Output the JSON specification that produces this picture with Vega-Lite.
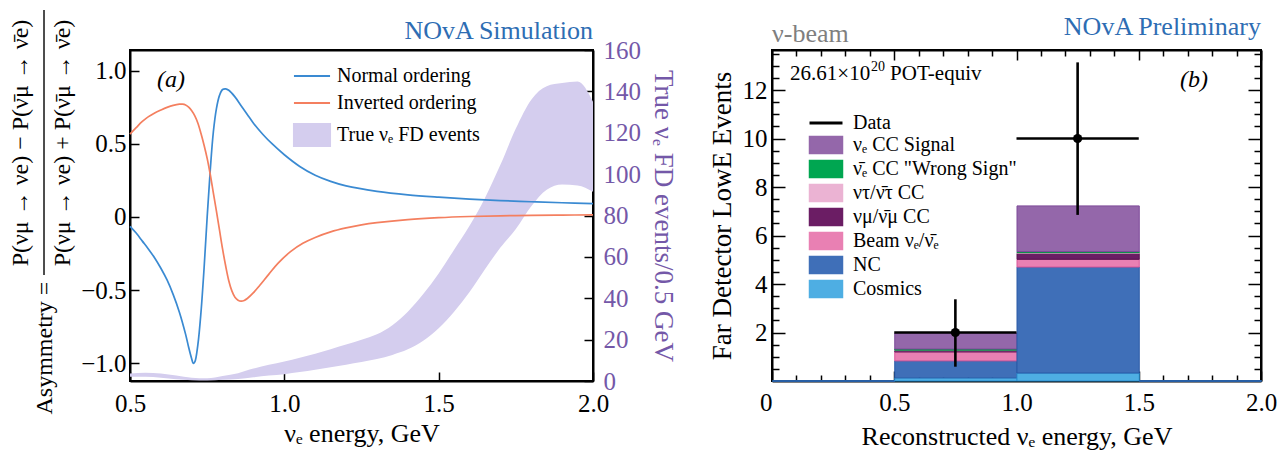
{
 "$schema": "https://vega.github.io/schema/vega-lite/v6.json",
 "background": "white",
 "padding": {"left": 8, "top": 8, "right": 0, "bottom": 0},
 "config": {
   "font": "Liberation Serif",
   "view": {"stroke": "black", "strokeWidth": 2},
   "text": {"font": "Liberation Serif"},
   "axis": {"domain": true, "domainColor": "black", "domainWidth": 2, "grid": false, "tickColor": "black", "tickWidth": 1.5, "labelColor": "black", "titleColor": "black", "labelFont": "Liberation Serif", "titleFont": "Liberation Serif", "labelFontSize": 25, "titleFontSize": 26, "titleFontWeight": "normal", "labelFlush": false, "labelOverlap": false, "labelBound": false},
   "legend": {"labelFont": "Liberation Serif", "labelColor": "black", "labelFontSize": 20, "labelLimit": 400}
 },
 "bounds": "flush",
 "spacing": 179,
 "resolve": {"scale": {"color": "independent", "stroke": "independent"}, "legend": {"color": "independent", "stroke": "independent"}},
 "datasets": {
  "curves": [
   {"E":0.5,"A":-0.064,"ordering":"Normal ordering"},{"E":0.52,"A":-0.11,"ordering":"Normal ordering"},{"E":0.54,"A":-0.165,"ordering":"Normal ordering"},{"E":0.56,"A":-0.22,"ordering":"Normal ordering"},{"E":0.58,"A":-0.28,"ordering":"Normal ordering"},{"E":0.6,"A":-0.35,"ordering":"Normal ordering"},{"E":0.62,"A":-0.43,"ordering":"Normal ordering"},{"E":0.64,"A":-0.53,"ordering":"Normal ordering"},{"E":0.66,"A":-0.65,"ordering":"Normal ordering"},{"E":0.68,"A":-0.8,"ordering":"Normal ordering"},{"E":0.69,"A":-0.89,"ordering":"Normal ordering"},{"E":0.7,"A":-0.97,"ordering":"Normal ordering"},{"E":0.705,"A":-1.0,"ordering":"Normal ordering"},{"E":0.71,"A":-0.99,"ordering":"Normal ordering"},{"E":0.72,"A":-0.87,"ordering":"Normal ordering"},{"E":0.73,"A":-0.65,"ordering":"Normal ordering"},{"E":0.74,"A":-0.35,"ordering":"Normal ordering"},{"E":0.75,"A":0.0,"ordering":"Normal ordering"},{"E":0.76,"A":0.32,"ordering":"Normal ordering"},{"E":0.77,"A":0.58,"ordering":"Normal ordering"},{"E":0.78,"A":0.74,"ordering":"Normal ordering"},{"E":0.79,"A":0.83,"ordering":"Normal ordering"},{"E":0.8,"A":0.87,"ordering":"Normal ordering"},{"E":0.81,"A":0.875,"ordering":"Normal ordering"},{"E":0.82,"A":0.865,"ordering":"Normal ordering"},{"E":0.84,"A":0.82,"ordering":"Normal ordering"},{"E":0.86,"A":0.76,"ordering":"Normal ordering"},{"E":0.88,"A":0.7,"ordering":"Normal ordering"},{"E":0.9,"A":0.64,"ordering":"Normal ordering"},{"E":0.93,"A":0.565,"ordering":"Normal ordering"},{"E":0.96,"A":0.5,"ordering":"Normal ordering"},{"E":1.0,"A":0.425,"ordering":"Normal ordering"},{"E":1.05,"A":0.345,"ordering":"Normal ordering"},{"E":1.1,"A":0.285,"ordering":"Normal ordering"},{"E":1.15,"A":0.243,"ordering":"Normal ordering"},{"E":1.2,"A":0.212,"ordering":"Normal ordering"},{"E":1.3,"A":0.175,"ordering":"Normal ordering"},{"E":1.4,"A":0.151,"ordering":"Normal ordering"},{"E":1.5,"A":0.135,"ordering":"Normal ordering"},{"E":1.6,"A":0.122,"ordering":"Normal ordering"},{"E":1.7,"A":0.112,"ordering":"Normal ordering"},{"E":1.8,"A":0.104,"ordering":"Normal ordering"},{"E":1.9,"A":0.097,"ordering":"Normal ordering"},{"E":2.0,"A":0.091,"ordering":"Normal ordering"},
   {"E":0.5,"A":0.566,"ordering":"Inverted ordering"},{"E":0.52,"A":0.61,"ordering":"Inverted ordering"},{"E":0.54,"A":0.652,"ordering":"Inverted ordering"},{"E":0.56,"A":0.685,"ordering":"Inverted ordering"},{"E":0.58,"A":0.71,"ordering":"Inverted ordering"},{"E":0.6,"A":0.73,"ordering":"Inverted ordering"},{"E":0.62,"A":0.748,"ordering":"Inverted ordering"},{"E":0.64,"A":0.762,"ordering":"Inverted ordering"},{"E":0.66,"A":0.77,"ordering":"Inverted ordering"},{"E":0.67,"A":0.77,"ordering":"Inverted ordering"},{"E":0.68,"A":0.765,"ordering":"Inverted ordering"},{"E":0.69,"A":0.75,"ordering":"Inverted ordering"},{"E":0.7,"A":0.725,"ordering":"Inverted ordering"},{"E":0.71,"A":0.69,"ordering":"Inverted ordering"},{"E":0.72,"A":0.64,"ordering":"Inverted ordering"},{"E":0.73,"A":0.57,"ordering":"Inverted ordering"},{"E":0.74,"A":0.49,"ordering":"Inverted ordering"},{"E":0.75,"A":0.4,"ordering":"Inverted ordering"},{"E":0.76,"A":0.29,"ordering":"Inverted ordering"},{"E":0.77,"A":0.165,"ordering":"Inverted ordering"},{"E":0.78,"A":0.04,"ordering":"Inverted ordering"},{"E":0.79,"A":-0.09,"ordering":"Inverted ordering"},{"E":0.8,"A":-0.22,"ordering":"Inverted ordering"},{"E":0.81,"A":-0.335,"ordering":"Inverted ordering"},{"E":0.82,"A":-0.435,"ordering":"Inverted ordering"},{"E":0.83,"A":-0.505,"ordering":"Inverted ordering"},{"E":0.84,"A":-0.548,"ordering":"Inverted ordering"},{"E":0.85,"A":-0.568,"ordering":"Inverted ordering"},{"E":0.86,"A":-0.575,"ordering":"Inverted ordering"},{"E":0.87,"A":-0.57,"ordering":"Inverted ordering"},{"E":0.88,"A":-0.557,"ordering":"Inverted ordering"},{"E":0.9,"A":-0.517,"ordering":"Inverted ordering"},{"E":0.92,"A":-0.468,"ordering":"Inverted ordering"},{"E":0.95,"A":-0.39,"ordering":"Inverted ordering"},{"E":0.98,"A":-0.315,"ordering":"Inverted ordering"},{"E":1.02,"A":-0.237,"ordering":"Inverted ordering"},{"E":1.06,"A":-0.18,"ordering":"Inverted ordering"},{"E":1.1,"A":-0.14,"ordering":"Inverted ordering"},{"E":1.15,"A":-0.102,"ordering":"Inverted ordering"},{"E":1.2,"A":-0.075,"ordering":"Inverted ordering"},{"E":1.25,"A":-0.054,"ordering":"Inverted ordering"},{"E":1.3,"A":-0.039,"ordering":"Inverted ordering"},{"E":1.4,"A":-0.018,"ordering":"Inverted ordering"},{"E":1.5,"A":-0.005,"ordering":"Inverted ordering"},{"E":1.6,"A":0.003,"ordering":"Inverted ordering"},{"E":1.7,"A":0.008,"ordering":"Inverted ordering"},{"E":1.8,"A":0.011,"ordering":"Inverted ordering"},{"E":1.9,"A":0.013,"ordering":"Inverted ordering"},{"E":2.0,"A":0.014,"ordering":"Inverted ordering"}
  ],
  "band": [
   {"E":0.5,"lo":2.0,"hi":3.6},{"E":0.55,"lo":2.0,"hi":4.0},{"E":0.6,"lo":1.6,"hi":3.6},{"E":0.65,"lo":0.9,"hi":2.6},{"E":0.7,"lo":0.4,"hi":1.6},{"E":0.75,"lo":0.3,"hi":1.3},{"E":0.8,"lo":0.6,"hi":2.4},{"E":0.85,"lo":1.0,"hi":3.8},{"E":0.9,"lo":1.8,"hi":6.0},{"E":0.95,"lo":2.6,"hi":7.8},{"E":1.0,"lo":3.3,"hi":9.4},{"E":1.05,"lo":4.3,"hi":11.2},{"E":1.1,"lo":5.4,"hi":13.2},{"E":1.15,"lo":6.6,"hi":15.4},{"E":1.2,"lo":7.9,"hi":17.6},{"E":1.25,"lo":9.2,"hi":20.0},{"E":1.3,"lo":10.6,"hi":22.6},{"E":1.35,"lo":12.6,"hi":27.0},{"E":1.4,"lo":15.3,"hi":33.5},{"E":1.45,"lo":19.5,"hi":42.0},{"E":1.5,"lo":25.5,"hi":52.0},{"E":1.55,"lo":33.5,"hi":63.5},{"E":1.6,"lo":43.0,"hi":75.0},{"E":1.65,"lo":54.0,"hi":88.5},{"E":1.7,"lo":64.5,"hi":104.5},{"E":1.75,"lo":73.5,"hi":122.0},{"E":1.8,"lo":84.5,"hi":136.0},{"E":1.85,"lo":92.5,"hi":142.5},{"E":1.9,"lo":95.0,"hi":144.0},{"E":1.95,"lo":94.5,"hi":144.8},{"E":2.0,"lo":91.5,"hi":135.0}
  ],
  "stack": [
   {"x0":0,"x1":0.5,"comp":"Cosmics","k":0,"n":0},{"x0":0,"x1":0.5,"comp":"NC","k":1,"n":0},
   {"x0":0.5,"x1":1.0,"comp":"Cosmics","k":0,"n":0.13},{"x0":0.5,"x1":1.0,"comp":"NC","k":1,"n":0.7},{"x0":0.5,"x1":1.0,"comp":"Beam ν\u2091/ν\u0304\u2091","k":2,"n":0.37},{"x0":0.5,"x1":1.0,"comp":"νμ/ν\u0304μ CC","k":3,"n":0.05},{"x0":0.5,"x1":1.0,"comp":"ντ/ν\u0304τ CC","k":4,"n":0.02},{"x0":0.5,"x1":1.0,"comp":"ν\u0304\u2091 CC \"Wrong Sign\"","k":5,"n":0.05},{"x0":0.5,"x1":1.0,"comp":"ν\u2091 CC Signal","k":6,"n":0.65},
   {"x0":1.0,"x1":1.5,"comp":"Cosmics","k":0,"n":0.33},{"x0":1.0,"x1":1.5,"comp":"NC","k":1,"n":4.37},{"x0":1.0,"x1":1.5,"comp":"Beam ν\u2091/ν\u0304\u2091","k":2,"n":0.32},{"x0":1.0,"x1":1.5,"comp":"νμ/ν\u0304μ CC","k":3,"n":0.24},{"x0":1.0,"x1":1.5,"comp":"ντ/ν\u0304τ CC","k":4,"n":0.03},{"x0":1.0,"x1":1.5,"comp":"ν\u0304\u2091 CC \"Wrong Sign\"","k":5,"n":0.05},{"x0":1.0,"x1":1.5,"comp":"ν\u2091 CC Signal","k":6,"n":1.88},
   {"x0":1.5,"x1":2.0,"comp":"Cosmics","k":0,"n":0},{"x0":1.5,"x1":2.0,"comp":"NC","k":1,"n":0}
  ],
  "obs": [
   {"x0":0.5,"x1":1.0,"xc":0.75,"n":2,"lo":0.59,"hi":3.37},
   {"x0":1.0,"x1":1.5,"xc":1.25,"n":10,"lo":6.85,"hi":13.14}
  ]
 },
 "hconcat": [
  {
   "width": 463, "height": 331,
   "layer": [
    {
     "data": {"name": "band"},
     "mark": {"type": "area", "opacity": 1, "interpolate": "monotone"},
     "encoding": {
      "x": {"field": "E", "type": "quantitative", "scale": {"domain": [0.5, 2.0], "nice": false, "zero": false},
            "axis": {"orient": "bottom", "values": [0.5, 1.0, 1.5, 2.0], "format": ".1f", "tickSize": -9, "labelPadding": 19, "title": "ν\u2091 energy, GeV", "titlePadding": 4}},
      "y": {"field": "lo", "type": "quantitative", "scale": {"domain": [0, 160], "nice": false},
            "axis": {"orient": "right", "values": [0,20,40,60,80,100,120,140,160], "tickSize": -9, "labelPadding": 19, "labelColor": "#7458a8", "title": "True ν\u2091 FD events/0.5 GeV", "titleColor": "#7458a8", "titleFontSize": 27, "titlePadding": 8}},
      "y2": {"field": "hi"},
      "color": {"datum": "True ν\u2091 FD events", "type": "nominal",
                "scale": {"domain": ["Normal ordering", "Inverted ordering", "True ν\u2091 FD events"], "range": ["#3a8ad2", "#f47f5f", "#d4cdee"]}}
     }
    },
    {
     "data": {"name": "curves"},
     "mark": {"type": "line", "strokeWidth": 1.7, "interpolate": "catmull-rom"},
     "encoding": {
      "x": {"field": "E", "type": "quantitative", "axis": null},
      "y": {"field": "A", "type": "quantitative", "scale": {"domain": [-1.12, 1.14], "nice": false},
            "axis": {"orient": "left", "values": [-1, -0.5, 0, 0.5, 1], "labelExpr": "datum.value == 0 ? '0' : replace(format(datum.value, '.1f'), '-', '−')", "tickSize": -9, "labelPadding": 13,
                     "title": "Asymmetry =", "titleFontSize": 24, "titleAngle": -90, "titleAlign": "left", "titleBaseline": "middle", "titleX": -86, "titleY": 364}},
      "color": {"field": "ordering", "type": "nominal",
                "scale": {"domain": ["Normal ordering", "Inverted ordering", "True ν\u2091 FD events"], "range": ["#3a8ad2", "#f47f5f", "#d4cdee"]},
                "legend": {"orient": "none", "legendX": 172, "legendY": 16, "title": null, "symbolSize": 484, "rowPadding": 7, "labelOffset": 15, "labelFontSize": 20,
                           "encode": {"symbols": {"update": {
                             "shape": {"signal": "datum.index === 2 ? 'M-1.64,-1L1.64,-1L1.64,1L-1.64,1Z' : 'M-1.64,0L1.64,0'"},
                             "fill": {"signal": "datum.index === 2 ? '#d4cdee' : 'transparent'"},
                             "stroke": {"signal": "['#3a8ad2','#f47f5f','#111111'][datum.index]"},
                             "strokeWidth": {"signal": "datum.index === 2 ? 2 : 1.8"},
                             "opacity": {"value": 1}}}}}}
     }
    },
    {
     "data": {"values": [{}]},
     "mark": {"type": "text", "text": "(a)", "font": "Liberation Serif", "fontSize": 24, "fontStyle": "italic", "align": "center", "baseline": "middle", "color": "black"},
     "encoding": {
      "x": {"datum": 0.633, "type": "quantitative", "axis": {"orient": "top", "ticks": false, "labels": false, "title": null}},
      "y": {"datum": 0.935, "type": "quantitative", "scale": {"domain": [-1.12, 1.14], "nice": false}, "axis": null}
     }
    },
    {
     "data": {"values": [{}]},
     "mark": {"type": "text", "text": "NOvA Simulation", "font": "Liberation Serif", "fontSize": 26, "align": "right", "baseline": "alphabetic", "color": "#2e6db3"},
     "encoding": {
      "x": {"datum": 2.0, "type": "quantitative", "axis": null},
      "y": {"datum": 1.215, "type": "quantitative", "scale": {"domain": [-1.12, 1.14], "nice": false}, "axis": null}
     }
    },
    {
     "data": {"values": [{}]},
     "mark": {"type": "text", "text": "P(νμ → νe) − P(ν\u0304μ → ν\u0304e)", "font": "Liberation Serif", "fontSize": 24, "angle": 270, "align": "center", "baseline": "middle", "color": "black"},
     "encoding": {
      "x": {"datum": 0.147, "type": "quantitative", "axis": null},
      "y": {"datum": 0.505, "type": "quantitative", "scale": {"domain": [-1.12, 1.14], "nice": false}, "axis": null}
     }
    },
    {
     "data": {"values": [{}]},
     "mark": {"type": "text", "text": "P(νμ → νe) + P(ν\u0304μ → ν\u0304e)", "font": "Liberation Serif", "fontSize": 24, "angle": 270, "align": "center", "baseline": "middle", "color": "black"},
     "encoding": {
      "x": {"datum": 0.283, "type": "quantitative", "axis": null},
      "y": {"datum": 0.505, "type": "quantitative", "scale": {"domain": [-1.12, 1.14], "nice": false}, "axis": null}
     }
    },
    {
     "data": {"values": [{}]},
     "mark": {"type": "rule", "strokeWidth": 1.4, "color": "black"},
     "encoding": {
      "x": {"datum": 0.2214, "type": "quantitative", "axis": null},
      "y": {"datum": -0.396, "type": "quantitative", "scale": {"domain": [-1.12, 1.14], "nice": false}, "axis": null},
      "y2": {"datum": 1.413}
     }
    }
   ],
   "resolve": {"scale": {"y": "independent"}, "axis": {"x": "independent"}}
  },
  {
   "width": 489, "height": 331,
   "layer": [
    {
     "data": {"name": "stack"},
     "mark": {"type": "bar", "strokeWidth": 1, "binSpacing": 0},
     "encoding": {
      "x": {"field": "x0", "type": "quantitative", "bin": "binned", "scale": {"domain": [0, 2], "nice": false},
            "axis": {"orient": "bottom", "values": [0,0.1,0.2,0.3,0.4,0.5,0.6,0.7,0.8,0.9,1,1.1,1.2,1.3,1.4,1.5,1.6,1.7,1.8,1.9,2],
                     "tickSize": {"condition": {"test": "abs(datum.value*2 - round(datum.value*2)) < 0.001", "value": -10}, "value": -6},
                     "labelExpr": "abs(datum.value*2 - round(datum.value*2)) < 0.001 ? (datum.value == 0 ? '0' : format(datum.value, '.1f')) : ''",
                     "labelAlign": {"condition": {"test": "datum.value == 0", "value": "right"}, "value": "center"},
                     "labelPadding": 19, "title": "Reconstructed ν\u2091 energy, GeV", "titlePadding": 4}},
      "x2": {"field": "x1"},
      "y": {"field": "n", "type": "quantitative", "stack": "zero", "scale": {"domain": [0, 13.65], "nice": false},
            "axis": {"orient": "left", "values": [0.5,1,1.5,2,2.5,3,3.5,4,4.5,5,5.5,6,6.5,7,7.5,8,8.5,9,9.5,10,10.5,11,11.5,12,12.5,13,13.5],
                     "tickSize": {"condition": {"test": "datum.value % 2 === 0", "value": -13}, "value": -7},
                     "labelExpr": "datum.value % 2 === 0 ? format(datum.value, 'd') : ''",
                     "labelPadding": 18, "title": "Far Detector LowE Events", "titleFontSize": 27, "titlePadding": 6}},
      "color": {"field": "comp", "type": "nominal",
                "scale": {"domain": ["Data", "ν\u2091 CC Signal", "ν\u0304\u2091 CC \"Wrong Sign\"", "ντ/ν\u0304τ CC", "νμ/ν\u0304μ CC", "Beam ν\u2091/ν\u0304\u2091", "NC", "Cosmics"],
                          "range": ["black", "#9467aa", "#00a651", "#ebb3d3", "#6b1d64", "#e980b3", "#3f6fb8", "#4eaee3"]},
                "legend": {"orient": "none", "legendX": 44, "legendY": 63, "title": null, "symbolSize": 289, "rowPadding": 0, "labelOffset": 17, "labelFontSize": 20,
                           "encode": {"symbols": {"update": {
                             "shape": {"signal": "datum.index === 0 ? 'M-1.94,0L1.94,0' : 'M-1.94,-1L1.94,-1L1.94,1L-1.94,1Z'"},
                             "fill": {"signal": "['transparent','#9467aa','#00a651','#ebb3d3','#6b1d64','#e980b3','#3f6fb8','#4eaee3'][datum.index]"},
                             "stroke": {"signal": "['black','#7d4a99','#008a40','#e08fbd','#55124f','#d8569a','#2a5aa7','#2b8fd0'][datum.index]"},
                             "strokeWidth": {"signal": "datum.index === 0 ? 3 : 1.5"},
                             "opacity": {"value": 1}}}}}},
      "stroke": {"field": "comp", "type": "nominal",
                 "scale": {"domain": ["ν\u2091 CC Signal", "ν\u0304\u2091 CC \"Wrong Sign\"", "ντ/ν\u0304τ CC", "νμ/ν\u0304μ CC", "Beam ν\u2091/ν\u0304\u2091", "NC", "Cosmics"],
                           "range": ["#7d4a99", "#008a40", "#e08fbd", "#55124f", "#d8569a", "#2a5aa7", "#2b8fd0"]},
                 "legend": null},
      "order": {"field": "k", "type": "quantitative"}
     }
    },
    {
     "data": {"name": "obs"},
     "mark": {"type": "rule", "strokeWidth": 2.6},
     "encoding": {
      "x": {"field": "xc", "type": "quantitative",
            "axis": {"orient": "top", "values": [0,0.1,0.2,0.3,0.4,0.5,0.6,0.7,0.8,0.9,1,1.1,1.2,1.3,1.4,1.5,1.6,1.7,1.8,1.9,2],
                     "tickSize": {"condition": {"test": "abs(datum.value*2 - round(datum.value*2)) < 0.001", "value": -10}, "value": -6},
                     "labels": false, "title": null}},
      "y": {"field": "lo", "type": "quantitative",
            "axis": {"orient": "right", "values": [0.5,1,1.5,2,2.5,3,3.5,4,4.5,5,5.5,6,6.5,7,7.5,8,8.5,9,9.5,10,10.5,11,11.5,12,12.5,13,13.5],
                     "tickSize": {"condition": {"test": "datum.value % 2 === 0", "value": -13}, "value": -7},
                     "labels": false, "title": null}},
      "y2": {"field": "hi"},
      "color": {"datum": "Data", "type": "nominal"}
     }
    },
    {
     "data": {"name": "obs"},
     "mark": {"type": "rule", "strokeWidth": 2.6},
     "encoding": {
      "x": {"field": "x0", "type": "quantitative", "axis": null},
      "x2": {"field": "x1"},
      "y": {"field": "n", "type": "quantitative", "axis": null},
      "color": {"datum": "Data", "type": "nominal"}
     }
    },
    {
     "data": {"name": "obs"},
     "mark": {"type": "circle", "size": 85, "opacity": 1},
     "encoding": {
      "x": {"field": "xc", "type": "quantitative", "axis": null},
      "y": {"field": "n", "type": "quantitative", "axis": null},
      "color": {"datum": "Data", "type": "nominal"}
     }
    },
    {
     "data": {"values": [{}]},
     "mark": {"type": "text", "text": "26.61×10", "font": "Liberation Serif", "fontSize": 21, "align": "left", "baseline": "alphabetic", "color": "black"},
     "encoding": {"x": {"datum": 0.074, "type": "quantitative", "axis": null}, "y": {"datum": 12.42, "type": "quantitative", "axis": null}}
    },
    {
     "data": {"values": [{}]},
     "mark": {"type": "text", "text": "20", "font": "Liberation Serif", "fontSize": 14, "align": "left", "baseline": "alphabetic", "dx": 81, "dy": -9, "color": "black"},
     "encoding": {"x": {"datum": 0.074, "type": "quantitative", "axis": null}, "y": {"datum": 12.42, "type": "quantitative", "axis": null}}
    },
    {
     "data": {"values": [{}]},
     "mark": {"type": "text", "text": "POT-equiv", "font": "Liberation Serif", "fontSize": 21, "align": "left", "baseline": "alphabetic", "dx": 100, "color": "black"},
     "encoding": {"x": {"datum": 0.074, "type": "quantitative", "axis": null}, "y": {"datum": 12.42, "type": "quantitative", "axis": null}}
    },
    {
     "data": {"values": [{}]},
     "mark": {"type": "text", "text": "(b)", "font": "Liberation Serif", "fontSize": 24, "fontStyle": "italic", "align": "center", "baseline": "middle", "color": "black"},
     "encoding": {"x": {"datum": 1.726, "type": "quantitative", "axis": null}, "y": {"datum": 12.43, "type": "quantitative", "axis": null}}
    },
    {
     "data": {"values": [{}]},
     "mark": {"type": "text", "text": "ν-beam", "font": "Liberation Serif", "fontSize": 26, "align": "left", "baseline": "alphabetic", "color": "#7f7f7f"},
     "encoding": {"x": {"datum": 0, "type": "quantitative", "axis": null}, "y": {"datum": 14.0, "type": "quantitative", "axis": null}}
    },
    {
     "data": {"values": [{}]},
     "mark": {"type": "text", "text": "NOvA Preliminary", "font": "Liberation Serif", "fontSize": 26, "align": "right", "baseline": "alphabetic", "color": "#2e6db3"},
     "encoding": {"x": {"datum": 2.0, "type": "quantitative", "axis": null}, "y": {"datum": 14.27, "type": "quantitative", "axis": null}}
    }
   ],
   "resolve": {"axis": {"x": "independent", "y": "independent"}}
  }
 ]
}
